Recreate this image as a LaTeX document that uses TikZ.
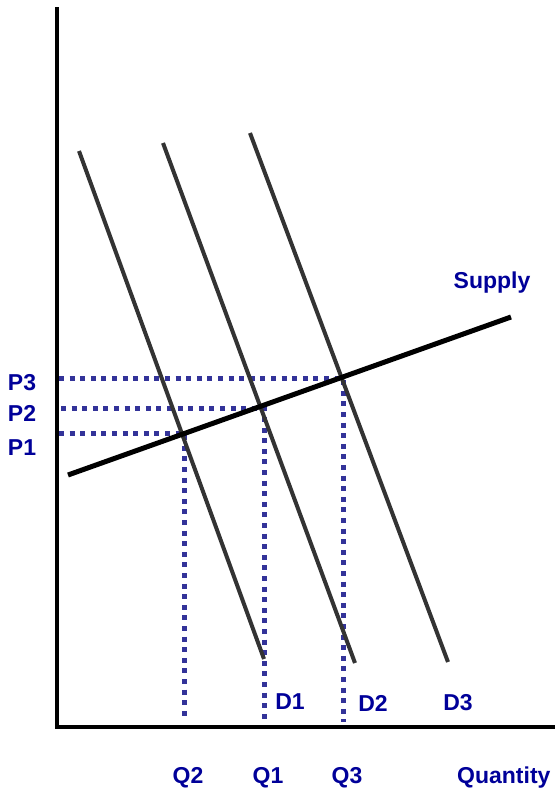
\documentclass[tikz,border=0pt]{standalone}
\usepackage{fontspec}
\setmainfont{Liberation Sans}
\definecolor{lbl}{RGB}{0,0,153}
\definecolor{dots}{RGB}{51,51,153}
\definecolor{dem}{RGB}{51,51,51}
\begin{document}
\begin{tikzpicture}[x=1pt,y=-1pt,
  lab/.style={text=lbl,font=\fontsize{23}{23}\selectfont\bfseries,inner sep=0pt},
  axis/.style={line width=4pt,black},
  demand/.style={line width=4pt,dem},
  supply/.style={line width=5pt,black},
  guide/.style={line width=5pt,dots,dash pattern=on 5pt off 5.6pt}]
\useasboundingbox (0,0) rectangle (555,796);
% axes
\coordinate (top) at (57,7);
\coordinate (origin) at (57,727);
\coordinate (right) at (555,727);
\draw[axis] (top) -- (origin) -- (right);
% supply
\coordinate (s0) at (68,475);
\coordinate (s1) at (511,317);
% demand
\coordinate (d1a) at (79,151);   \coordinate (d1b) at (264,659);
\coordinate (d2a) at (163,143);  \coordinate (d2b) at (355,663);
\coordinate (d3a) at (250,133);  \coordinate (d3b) at (448,662);
% equilibria
\coordinate (e1) at (184,433);
\coordinate (e2) at (264,408);
\coordinate (e3) at (343,378);
\coordinate (h1) at (59,433);
\coordinate (h2) at (61,408);
\coordinate (h3) at (59,378);
\coordinate (v1) at (184,720);
\coordinate (v2) at (264,721);
\coordinate (v3) at (343,722);
% guides
\draw[guide] (h1) -- (e1) -- (v1);
\draw[guide] (h2) -- (e2) -- (v2);
\draw[guide] (h3) -- (e3) -- (v3);
% curves
\draw[demand] (d1a) -- (d1b);
\draw[demand] (d2a) -- (d2b);
\draw[demand] (d3a) -- (d3b);
\draw[supply] (s0) -- (s1);
% labels
\node[lab] (lP3) at (22,383) {P3};
\node[lab] (lP2) at (22,413) {P2};
\node[lab] (lP1) at (22,448) {P1};
\node[lab] (lQ2) at (188,778) {Q2};
\node[lab] (lQ1) at (268,778) {Q1};
\node[lab] (lQ3) at (347,778) {Q3};
\node[lab,anchor=west] (lQ) at (457,778) {Quantity};
\node[lab] (lD1) at (290,702) {D1};
\node[lab] (lD2) at (373,703) {D2};
\node[lab] (lD3) at (458,703) {D3};
\node[lab] (lS) at (492,283) {Supply};
\end{tikzpicture}
\end{document}
